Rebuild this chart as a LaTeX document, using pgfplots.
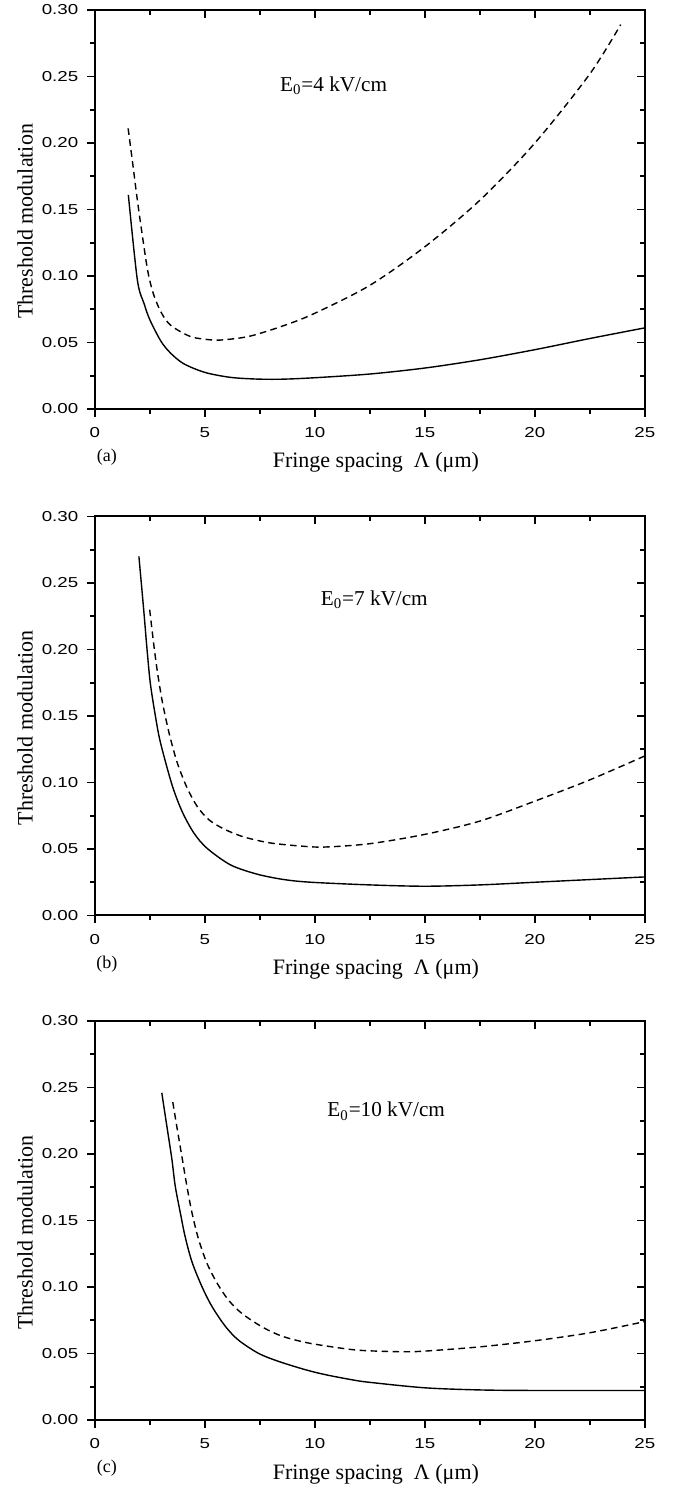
\documentclass[border=0pt]{standalone}
\usepackage{fontspec}
\setmainfont{Liberation Serif}
\newfontfamily\tickfont{Liberation Sans}[FakeStretch=1.3]
\usepackage{pgfplots}
\pgfplotsset{compat=1.18}

\pgfplotsset{
  panel/.style={
    scale only axis, width=275pt, height=199.5pt,
    xmin=0, xmax=25, ymin=0, ymax=0.30,
    xtick={0,5,...,25}, ytick={0,0.05,0.10,0.15,0.20,0.25,0.30},
    minor x tick num=1, minor y tick num=1,
    axis line style={line width=1pt},
    major tick length=4pt, minor tick length=2.5pt,
    every tick/.style={black, line width=0.8pt},
    anchor=south west, clip=false,
  },
  mainax/.style={panel,
    tick align=outside, xtick pos=bottom, ytick pos=left,
    /pgf/number format/assume math mode=true,
    ticklabel style={font=\tickfont\fontsize{7.2}{9}\selectfont},
    xticklabel style={yshift=-1.9pt},
    yticklabel style={xshift=-0.8pt, /pgf/number format/fixed, /pgf/number format/fixed zerofill,
      /pgf/number format/precision=2},
    xlabel={Fringe spacing\ \ Λ (μm)},
    ylabel={Threshold modulation},
    xlabel style={at={(axis description cs:0.5,0)}, anchor=base, yshift=-29.5pt, xshift=3pt,
      font=\fontsize{11}{13}\selectfont},
    ylabel style={at={(axis description cs:-0.127,0.47)}, anchor=center,
      font=\fontsize{11}{13}\selectfont},
  },
  overax/.style={panel,
    tick align=inside, xtick pos=top, ytick pos=right,
    xticklabels={}, yticklabels={},
  },
  sol/.style={black, line width=0.7pt, smooth, tension=0.5},
  das/.style={black, line width=0.7pt, smooth, tension=0.5, dash pattern=on 3.3pt off 2.2pt},
}
\tikzset{
  lab/.style={anchor=base west, inner sep=0pt, font=\fontsize{10.6}{12}\selectfont},
  tag/.style={anchor=base, font=\fontsize{9}{11}\selectfont},
}

\begin{document}
\begin{tikzpicture}
% (a) E0 = 4 kV/cm
\begin{axis}[mainax, at={(47.45pt,539.5pt)}]
\addplot[sol] coordinates {(1.52,0.161) (1.93,0.097) (2.24,0.079) (2.5,0.067) (3.0,0.051)
  (3.44,0.042) (4.04,0.034) (5.0,0.0275) (6.15,0.0238) (7.36,0.0225) (8.5,0.0224)
  (10,0.0235) (12.5,0.0263) (15,0.0308) (17.5,0.037) (20,0.0446) (22.5,0.053) (25,0.061)};
\addplot[das] coordinates {(1.51,0.211) (1.70,0.187) (1.93,0.157) (2.16,0.130) (2.4,0.104)
  (2.65,0.087) (3.0,0.073) (3.44,0.063) (4.34,0.0545) (5.25,0.052) (5.85,0.052) (7.06,0.0548)
  (8.64,0.063) (10,0.072) (12.5,0.093) (15,0.122) (17.5,0.157) (20,0.200) (22.5,0.252) (23.9,0.289)};
\node[lab] at (axis cs:8.4,0.239) {E\textsubscript{0}=4 kV/cm};
\node[tag] at (axis cs:0.54,0) [yshift=-26.5pt] {(a)};
\end{axis}
\begin{axis}[overax, at={(47.45pt,539.5pt)}]
\end{axis}

% (b) E0 = 7 kV/cm
\begin{axis}[mainax, at={(47.45pt,286.25pt)}]
\addplot[sol] coordinates {(2.0,0.270) (2.22,0.2295) (2.37,0.200) (2.52,0.1745) (2.75,0.150)
  (2.98,0.130) (3.51,0.098) (3.97,0.078) (4.5,0.062) (5.1,0.0505) (6.17,0.038) (7.39,0.031)
  (8.6,0.027) (9.82,0.025) (12.5,0.023) (15,0.022) (17.5,0.023) (20,0.025) (22.5,0.027) (25,0.029)};
\addplot[das] coordinates {(2.49,0.230) (2.67,0.2045) (2.83,0.1845) (3.05,0.162) (3.36,0.138)
  (3.74,0.115) (4.19,0.096) (4.65,0.082) (5.18,0.072) (5.87,0.065) (6.78,0.0590) (7.99,0.0545)
  (9.51,0.052) (10.5,0.0515) (12.5,0.054) (15,0.061) (17.5,0.071) (20,0.086) (22.5,0.102) (25,0.120)};
\node[lab] at (axis cs:10.25,0.233) {E\textsubscript{0}=7 kV/cm};
\node[tag] at (axis cs:0.54,0) [yshift=-26.5pt] {(b)};
\end{axis}
\begin{axis}[overax, at={(47.45pt,286.25pt)}]
\end{axis}

% (c) E0 = 10 kV/cm
\begin{axis}[mainax, at={(47.45pt,34pt)}]
\addplot[sol] coordinates {(3.04,0.246) (3.27,0.221) (3.5,0.196) (3.65,0.176) (3.88,0.156)
  (4.1,0.138) (4.41,0.119) (4.86,0.1005) (5.32,0.0854) (5.93,0.0704) (6.53,0.060) (7.45,0.050)
  (8.36,0.044) (9.57,0.0378) (10.5,0.0340) (11.7,0.0302) (12.5,0.0283) (15,0.0242) (17.5,0.0226)
  (20,0.0222) (25,0.0222)};
\addplot[das] coordinates {(3.54,0.239) (3.72,0.221) (3.95,0.1985) (4.18,0.176) (4.41,0.156)
  (4.71,0.136) (5.09,0.118) (5.55,0.103) (6.08,0.090) (6.69,0.080) (7.6,0.070) (8.51,0.063)
  (9.73,0.0578) (11.55,0.0532) (12.5,0.052) (14,0.0513) (15,0.0518) (17.5,0.055) (20,0.0596)
  (22.5,0.0656) (25,0.074)};
\node[lab] at (axis cs:10.55,0.228) {E\textsubscript{0}=10 kV/cm};
\node[tag] at (axis cs:0.54,0) [yshift=-26.5pt] {(c)};
\end{axis}
\begin{axis}[overax, at={(47.45pt,34pt)}]
\end{axis}

\pgfresetboundingbox
\useasboundingbox (0,0) rectangle (339pt,744pt);
\end{tikzpicture}
\end{document}
